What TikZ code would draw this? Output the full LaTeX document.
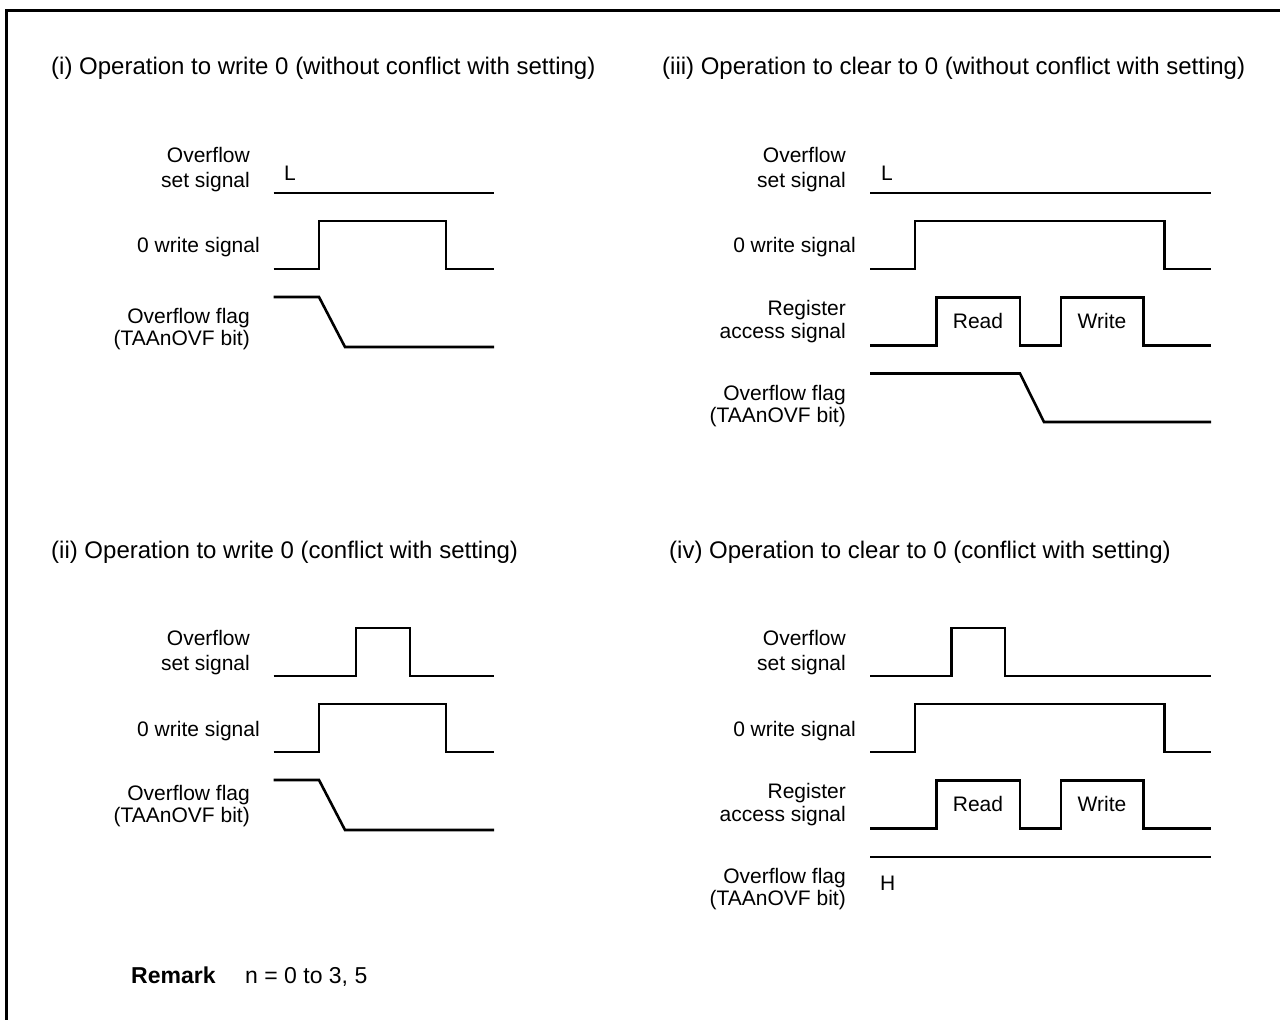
\documentclass[tikz,border=0pt]{standalone}
\usepackage{fontspec}
\setmainfont{Liberation Sans}
\begin{document}
\begin{tikzpicture}[x=1pt,y=-1pt,
  wave/.style={line width=2.6pt, line cap=butt, line join=miter},
  frame/.style={line width=3pt},
  ttl/.style={font=\fontsize{24}{28}\selectfont, anchor=base west, inner sep=0pt},
  lbl/.style={font=\fontsize{21}{24}\selectfont, anchor=base east, inner sep=0pt},
  lvl/.style={font=\fontsize{21}{24}\selectfont, anchor=base west, inner sep=0pt},
  inbox/.style={font=\fontsize{21}{24}\selectfont, anchor=base, inner sep=0pt},
  rem/.style={font=\fontsize{23}{27}\selectfont, anchor=base west, inner sep=0pt}]
\useasboundingbox (0,0) rectangle (1280,1020);
\draw[frame] (6.5,1020) -- (6.5,10.5) -- (1280,10.5);

% ---------- titles ----------
\node[ttl] (t1) at (51,74) {(i) Operation to write 0 (without conflict with setting)};
\node[ttl] (t3) at (662,74) {(iii) Operation to clear to 0 (without conflict with setting)};
\node[ttl] (t2) at (51,558) {(ii) Operation to write 0 (conflict with setting)};
\node[ttl] (t4) at (669,558) {(iv) Operation to clear to 0 (conflict with setting)};

% ---------- panel (i) ----------
\node[lbl] (i1a) at (250,162) {Overflow};
\node[lbl] (i1b) at (250,187) {set signal};
\node[lvl] (iL) at (284,180) {L};
\node[lbl] (i2) at (260,252) {0 write signal};
\node[lbl] (i3a) at (250,323) {Overflow flag};
\node[lbl] (i3b) at (250,345.5) {(TAAnOVF bit)};
\draw[wave] (273.5,193) -- (494,193);
\draw[wave] (273.5,269) -- (319,269) -- (319,221) -- (446,221) -- (446,269) -- (494,269);
\draw[wave] (273.5,297) -- (319,297) -- (345,347) -- (494,347);

% ---------- panel (ii) ----------
\node[lbl] (ii1a) at (250,645) {Overflow};
\node[lbl] (ii1b) at (250,670) {set signal};
\node[lbl] (ii2) at (260,736) {0 write signal};
\node[lbl] (ii3a) at (250,800) {Overflow flag};
\node[lbl] (ii3b) at (250,822.5) {(TAAnOVF bit)};
\draw[wave] (273.5,676) -- (356,676) -- (356,628) -- (410,628) -- (410,676) -- (494,676);
\draw[wave] (273.5,752) -- (319,752) -- (319,704) -- (446,704) -- (446,752) -- (494,752);
\draw[wave] (273.5,780) -- (319,780) -- (345,830) -- (494,830);

% ---------- panel (iii) ----------
\node[lbl] (iii1a) at (846,162) {Overflow};
\node[lbl] (iii1b) at (846,187) {set signal};
\node[lvl] (iiiL) at (881,180) {L};
\node[lbl] (iii2) at (856,252) {0 write signal};
\node[lbl] (iii3a) at (846,315) {Register};
\node[lbl] (iii3b) at (846,338) {access signal};
\node[lbl] (iii4a) at (846,400) {Overflow flag};
\node[lbl] (iii4b) at (846,422.5) {(TAAnOVF bit)};
\draw[wave] (870,193) -- (1211,193);
\draw[wave] (870,269) -- (915,269) -- (915,221) -- (1164.5,221) -- (1164.5,269) -- (1211,269);
\draw[wave] (870,345.5) -- (936.5,345.5) -- (936.5,297.5) -- (1020,297.5) -- (1020,345.5)
  -- (1061,345.5) -- (1061,297.5) -- (1143.5,297.5) -- (1143.5,345.5) -- (1211,345.5);
\node[inbox] (iiiR) at (978,328.5) {Read};
\node[inbox] (iiiW) at (1102,328.5) {Write};
\draw[wave] (870,373.5) -- (1020,373.5) -- (1044,422) -- (1211,422);

% ---------- panel (iv) ----------
\node[lbl] (iv1a) at (846,645) {Overflow};
\node[lbl] (iv1b) at (846,670) {set signal};
\node[lbl] (iv2) at (856,736) {0 write signal};
\node[lbl] (iv3a) at (846,798) {Register};
\node[lbl] (iv3b) at (846,821) {access signal};
\node[lbl] (iv4a) at (846,883) {Overflow flag};
\node[lbl] (iv4b) at (846,905.5) {(TAAnOVF bit)};
\node[lvl] (ivH) at (880,890) {H};
\draw[wave] (870,676) -- (951.5,676) -- (951.5,628) -- (1005,628) -- (1005,676) -- (1211,676);
\draw[wave] (870,752) -- (915,752) -- (915,704) -- (1164.5,704) -- (1164.5,752) -- (1211,752);
\draw[wave] (870,828.5) -- (936.5,828.5) -- (936.5,780.5) -- (1020,780.5) -- (1020,828.5)
  -- (1061,828.5) -- (1061,780.5) -- (1143.5,780.5) -- (1143.5,828.5) -- (1211,828.5);
\node[inbox] (ivR) at (978,811.5) {Read};
\node[inbox] (ivW) at (1102,811.5) {Write};
\draw[wave] (870,857) -- (1211,857);

% ---------- remark ----------
\node[rem] (remk) at (131,983) {\bfseries Remark};
\node[rem] (remn) at (245,983) {n = 0 to 3, 5};
\end{tikzpicture}
\end{document}
